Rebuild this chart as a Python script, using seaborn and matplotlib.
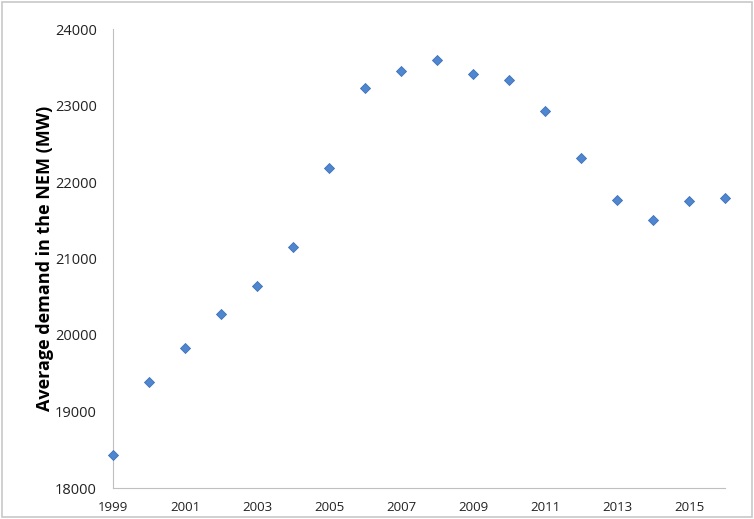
import pandas as pd
import seaborn as sns
import matplotlib.pyplot as plt
from matplotlib.patches import Rectangle

# --- data ---
years = [1999, 2000, 2001, 2002, 2003, 2004, 2005, 2006, 2007,
         2008, 2009, 2010, 2011, 2012, 2013, 2014, 2015, 2016]
demand_mw = [18430, 19385, 19835, 20270, 20635, 21145, 22180, 23225, 23445,
             23595, 23415, 23335, 22930, 22320, 21760, 21505, 21755, 21795]
x_ticks = [1999, 2001, 2003, 2005, 2007, 2009, 2011, 2013, 2015]
y_ticks = [18000, 19000, 20000, 21000, 22000, 23000, 24000]

df = pd.DataFrame({'year': years, 'demand': demand_mw})

sns.set_style('white')
plt.rcParams['font.family'] = ['Open Sans', 'DejaVu Sans']

fig = plt.figure(figsize=(7.54, 5.19), dpi=100)
ax = fig.add_axes([113 / 754, 31 / 519, 612 / 754, 459 / 519])

sns.scatterplot(data=df, x='year', y='demand', marker='D', s=26,
                color='#4F86D0', edgecolor='#3F72B8', linewidth=0.6,
                clip_on=False, zorder=3, ax=ax)

ax.set_xlim(1999, 2016)
ax.set_ylim(18000, 24000)
ax.set_xticks(x_ticks)
ax.set_yticks(y_ticks)
ax.set_xticklabels([str(t) for t in x_ticks], fontsize=9.5, color='#222222')
ax.set_yticklabels([str(t) for t in y_ticks], fontsize=10.5, color='#222222')
ax.tick_params(axis='both', direction='out', length=4.5, width=0.8,
               color='#BFBFBF')
ax.tick_params(axis='y', pad=7)
ax.tick_params(axis='x', pad=5)

ax.set_xlabel('')
ax.set_ylabel('Average demand in the NEM (MW)', fontsize=13,
              fontweight='bold', color='black', labelpad=1)

sns.despine(ax=ax)
for side in ['left', 'bottom']:
    ax.spines[side].set_color('#BFBFBF')
    ax.spines[side].set_linewidth(0.8)

# light frame round the whole chart
fig.patches.append(Rectangle((0.002, 0.003), 0.996, 0.994, transform=fig.transFigure,
                             fill=False, edgecolor='#C8C8C8', linewidth=1.2))

fig.savefig('out.png', dpi=100)
